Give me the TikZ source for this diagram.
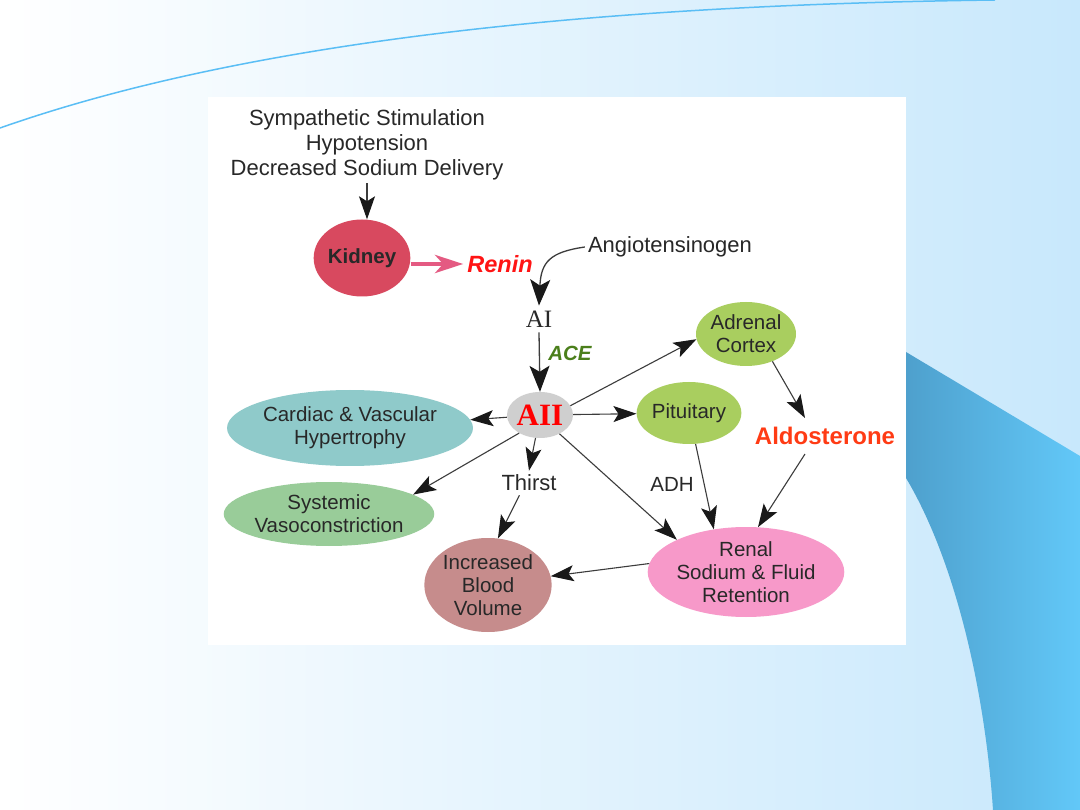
\documentclass[tikz,border=0pt]{standalone}
\usepackage{fontspec}
\setmainfont{Liberation Sans}
\newfontfamily\serifA{Liberation Serif}
\usetikzlibrary{arrows.meta,shapes.geometric}
\definecolor{bgright}{RGB}{200,232,252}
\definecolor{curvec}{RGB}{90,190,245}
\definecolor{shapeL}{RGB}{78,160,205}
\definecolor{shapeR}{RGB}{98,200,248}
\definecolor{kidc}{RGB}{216,73,95}
\definecolor{pinkarr}{RGB}{228,90,130}
\definecolor{reninred}{RGB}{255,20,20}
\definecolor{acegreen}{RGB}{75,127,27}
\definecolor{aiic}{RGB}{207,207,207}
\definecolor{adrc}{RGB}{169,206,95}
\definecolor{aldoc}{RGB}{255,59,20}
\definecolor{cardc}{RGB}{143,202,202}
\definecolor{sysc}{RGB}{153,204,153}
\definecolor{ibvc}{RGB}{198,140,140}
\definecolor{renc}{RGB}{247,153,201}
\definecolor{textc}{RGB}{40,40,40}
\definecolor{arrc}{RGB}{60,60,60}
\definecolor{headc}{RGB}{25,25,25}
\newcommand\nfont{\fontsize{20.5}{23}\selectfont}
\newcommand\tfont{\fontsize{22}{25}\selectfont}
\begin{document}
\begin{tikzpicture}[x=1pt,y=-1pt,
  ell/.style={ellipse, inner sep=0pt, align=center, text=textc, font=\nfont},
  lbl/.style={inner sep=3pt, text=textc, font=\tfont},
  arr/.style={draw=arrc, line width=1.1pt, -{Stealth[length=23pt,width=16pt,inset=5pt,color=headc]}},
  bigarr/.style={draw=arrc, line width=1.3pt, -{Stealth[length=26pt,width=20pt,inset=6pt,color=headc]}},
  pinkarrow/.style={draw=pinkarr, line width=4.5pt, -{Stealth[length=28pt,width=18pt,inset=8pt]}}]
\useasboundingbox (0,0) rectangle (1080,810);
% background
\shade[left color=white, right color=bgright] (0,0) rectangle (1080,810);
\draw[curvec, line width=1.5pt] (0,128) .. controls (250,40) and (600,5) .. (995,0);
\shade[left color=shapeL, right color=shapeR] (906,352) -- (1080,456) -- (1080,810) -- (993,810)
  .. controls (985,690) and (955,560) .. (906,478) -- cycle;
\fill[white] (208,97) rectangle (906,645);

% nodes
\node[lbl, align=center] (causes) at (367,145) {Sympathetic Stimulation\\Hypotension\\Decreased Sodium Delivery};
\node[ell, fill=kidc, minimum width=95pt, minimum height=77pt, font=\fontsize{20.5}{23}\selectfont\bfseries] (kid) at (362,258) {Kidney};
\node[inner sep=4pt, text=reninred, font=\fontsize{23.5}{26}\selectfont\bfseries\itshape] (renin) at (500,264) {Renin};
\node[lbl] (ang) at (670,247) {Angiotensinogen};
\node[inner sep=5pt, text=textc, font=\fontsize{25}{27}\selectfont\serifA] (ai) at (539,319) {AI};
\node[ell, fill=aiic, minimum width=66pt, minimum height=46pt, text=red, font=\fontsize{31}{33}\selectfont\serifA\bfseries] (aii) at (540,415) {AII};
\node[inner sep=2pt, text=acegreen, font=\fontsize{20.5}{23}\selectfont\bfseries\itshape] (ace) at (570,353) {ACE};
\node[ell, fill=adrc, minimum width=100pt, minimum height=64pt] (adr) at (746,334) {Adrenal\\Cortex};
\node[ell, fill=adrc, minimum width=98pt, minimum height=62pt] (pit) at (689,413) {Pituitary};
\node[inner sep=3pt, text=aldoc, font=\fontsize{24}{26}\selectfont\bfseries] (ald) at (825,436) {Aldosterone};
\node[ell, fill=cardc, minimum width=210pt, minimum height=76pt] (card) at (350,428) {Cardiac \& Vascular\\Hypertrophy};
\node[ell, fill=sysc, minimum width=206pt, minimum height=64pt] (sys) at (329,514) {Systemic\\Vasoconstriction};
\node[lbl, inner sep=4pt] (thirst) at (529,483) {Thirst};
\node[lbl, font=\nfont] (adh) at (672,484) {ADH};
\node[ell, fill=ibvc, minimum width=124pt, minimum height=94pt] (ibv) at (488,585) {Increased\\Blood\\Volume};
\node[ell, fill=renc, minimum width=192pt, minimum height=90pt] (ren) at (746,572) {Renal\\Sodium \& Fluid\\Retention};

% connectors
\draw[arr] (causes.south) -- (causes.south |- kid.north);
\draw[pinkarrow] (kid.east |- renin.west) -- (renin.west);
\draw[bigarr] (ang.west) .. controls (550,252) and (541,262) .. (ai.north);
\draw[bigarr] (ai.south) -- (aii.north);
\draw[arr] (aii.17) -- (adr.186);
\draw[arr] (aii) -- (pit);
\draw[arr] (aii) -- (card);
\draw[arr] (aii.221) -- (sys.13);
\draw[arr] (aii.259) -- (thirst.north);
\draw[arr] (thirst.232) -- (ibv.78);
\draw[arr] (aii.316) -- (ren.155);
\draw[arr] (pit.282) -- (ren.127);
\draw[arr] (adr.314) -- ([xshift=-20pt,yshift=6pt]ald.north);
\draw[arr] ([xshift=-20pt,yshift=-6pt]ald.south) -- (ren.75);
\draw[arr] (ren.175) -- (ibv.8);
\end{tikzpicture}
\end{document}
